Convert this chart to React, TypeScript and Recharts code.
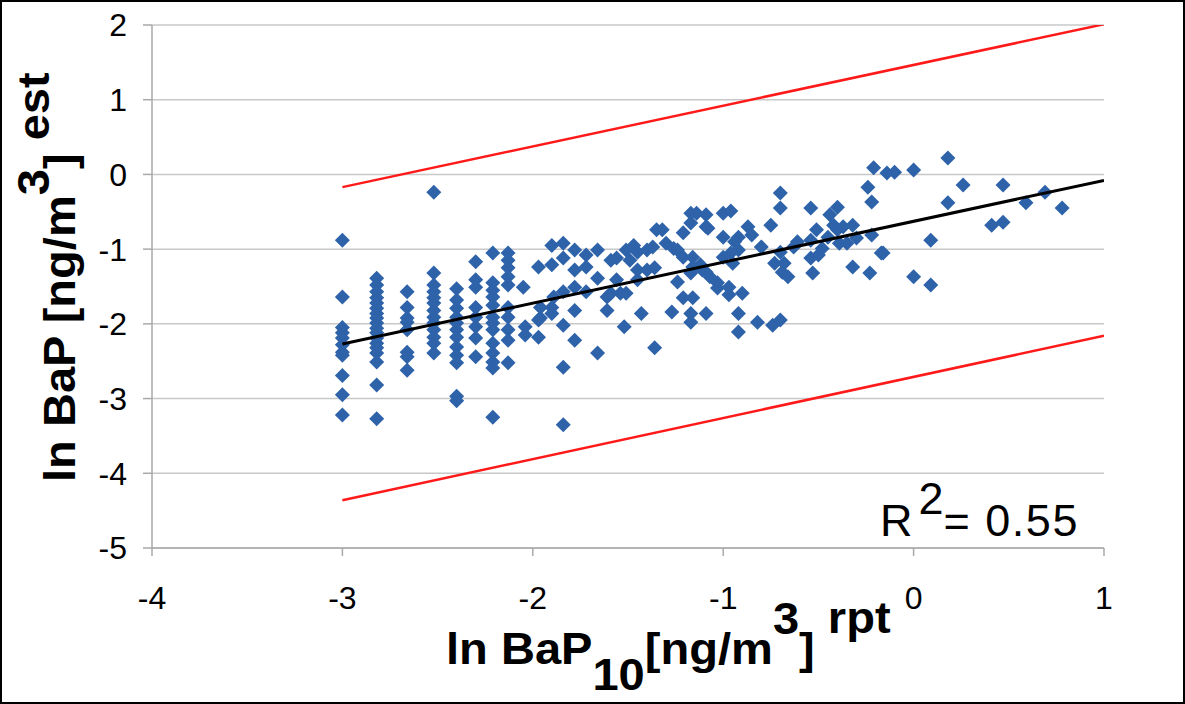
import React from 'react';
import { ScatterChart, Scatter, XAxis, YAxis, CartesianGrid } from 'recharts';

const FONT = '"Liberation Sans", Arial, sans-serif';

const xTicks = [-4, -3, -2, -1, 0, 1];
const yTicks = [-5, -4, -3, -2, -1, 0, 1, 2];

// low reported values sit on a few discrete levels, so keep them as columns
const columns = [
  { x: -3.0, ys: [-0.88, -1.64, -2.05, -2.12, -2.19, -2.28, -2.38, -2.42, -2.69, -2.95, -3.22] },
  { x: -2.82, ys: [-1.39, -1.48, -1.57, -1.65, -1.72, -1.79, -1.86, -1.92, -1.99, -2.06, -2.12, -2.19, -2.26, -2.32, -2.39, -2.51, -2.82, -3.27] },
  { x: -2.66, ys: [-1.57, -1.78, -1.92, -1.98, -2.08, -2.38, -2.44, -2.62] },
  { x: -2.52, ys: [-0.24, -1.32, -1.48, -1.57, -1.65, -1.72, -1.82, -1.91, -1.99, -2.08, -2.18, -2.26, -2.39] },
  { x: -2.4, ys: [-1.53, -1.68, -1.79, -1.91, -1.99, -2.08, -2.18, -2.31, -2.42, -2.52, -2.97, -3.03] },
  { x: -2.3, ys: [-1.17, -1.41, -1.51, -1.78, -1.91, -2.04, -2.19, -2.44] },
  { x: -2.21, ys: [-1.05, -1.45, -1.55, -1.64, -1.75, -1.91, -1.99, -2.08, -2.26, -2.39, -2.51, -2.59, -3.25] },
  { x: -2.13, ys: [-1.05, -1.15, -1.25, -1.37, -1.48, -1.78, -1.91, -2.08, -2.22, -2.52] },
];

// middle of the range [reported, estimated]
const midPoints: [number, number][] = [
  [-2.05, -1.51], [-2.04, -2.04], [-2.04, -2.15], [-1.97, -1.24], [-1.97, -1.95], [-1.97, -2.18],
  [-1.96, -1.78], [-1.96, -1.92], [-1.9, -0.95], [-1.9, -1.21], [-1.9, -1.78], [-1.9, -1.86],
  [-1.89, -1.64], [-1.84, -0.92], [-1.84, -1.12], [-1.84, -1.57], [-1.84, -2.02], [-1.84, -2.58],
  [-1.84, -3.35], [-1.78, -1.01], [-1.78, -1.28], [-1.78, -1.51], [-1.78, -1.82], [-1.78, -2.22],
  [-1.72, -1.08], [-1.72, -1.24], [-1.72, -1.57], [-1.66, -1.01], [-1.66, -1.39], [-1.66, -2.39],
  [-1.61, -1.64], [-1.61, -1.82], [-1.59, -1.15], [-1.59, -1.59], [-1.56, -1.12], [-1.56, -1.41],
  [-1.54, -1.59], [-1.52, -2.04], [-1.51, -1.01], [-1.51, -1.59], [-1.49, -1.15], [-1.47, -0.95],
  [-1.45, -1.28], [-1.45, -1.41], [-1.45, -1.04], [-1.43, -1.86], [-1.4, -1.01], [-1.4, -1.28],
  [-1.37, -0.97], [-1.36, -1.25], [-1.36, -2.32], [-1.35, -0.74], [-1.32, -0.74], [-1.3, -0.92],
  [-1.27, -1.84], [-1.26, -0.99], [-1.24, -1.01], [-1.24, -1.44], [-1.21, -0.78], [-1.21, -1.11],
  [-1.21, -1.65], [-1.17, -0.52], [-1.14, -0.52], [-1.17, -0.65], [-1.17, -1.32], [-1.17, -1.86],
  [-1.17, -1.98], [-1.16, -1.11], [-1.16, -1.24], [-1.16, -1.65], [-1.11, -1.28], [-1.09, -0.7],
  [-1.09, -1.86],
];

const highPoints: [number, number][] = [
  [-1.09, -0.54], [-1.08, -0.72], [-1.0, -0.52], [-0.96, -0.49], [-0.87, -0.7], [-0.85, -0.81],
  [-0.75, -0.68], [-1.0, -0.84], [-0.92, -0.84], [-0.94, -0.9], [-0.8, -0.97], [-0.92, -1.01],
  [-0.96, -1.05], [-1.0, -1.11], [-1.12, -1.21], [-0.95, -1.19], [-1.09, -1.31], [-1.07, -1.37],
  [-1.03, -1.45], [-1.03, -1.52], [-0.97, -1.51], [-0.97, -1.61], [-0.9, -1.59], [-0.92, -1.86],
  [-0.82, -1.98], [-0.74, -2.02], [-0.7, -1.95], [-0.92, -2.11], [-0.73, -1.19], [-0.68, -1.19],
  [-0.69, -1.31], [-0.66, -1.37], [-0.7, -1.04], [-0.61, -0.9], [-0.63, -0.97], [-0.54, -0.88],
  [-0.51, -0.74], [-0.54, -1.12], [-0.53, -1.32], [-0.5, -1.08], [-0.48, -0.99], [-0.45, -0.84],
  [-0.42, -0.68], [-0.4, -0.74], [-0.37, -0.7], [-0.32, -0.68], [-0.39, -0.92], [-0.35, -0.92],
  [-0.3, -0.85], [-0.22, -0.81], [-0.23, -1.32], [-0.32, -1.24], [-0.17, -1.05], [-0.7, -0.25],
  [-0.7, -0.45], [-0.54, -0.45], [-0.44, -0.54], [-0.4, -0.44], [-0.24, -0.17], [-0.22, -0.37],
  [-0.21, 0.09], [-0.14, 0.02], [-0.1, 0.03], [0.0, 0.06], [0.18, 0.22], [0.26, -0.14],
  [0.47, -0.14], [0.18, -0.38], [0.59, -0.38], [0.69, -0.24], [0.78, -0.45], [0.41, -0.68],
  [0.47, -0.64], [0.09, -0.88], [-0.16, -1.05], [0.0, -1.37], [0.09, -1.48],
];

const fitLine = [{ x: -3, y: -2.27 }, { x: 1, y: -0.08 }];
const upperBound = [{ x: -3, y: -0.17 }, { x: 1, y: 2.01 }];
const lowerBound = [{ x: -3, y: -4.36 }, { x: 1, y: -2.16 }];
const rSquared = '0.55';

const points = [
  ...columns.flatMap((c) => c.ys.map((y) => ({ x: c.x, y }))),
  ...midPoints.map(([x, y]) => ({ x, y })),
  ...highPoints.map(([x, y]) => ({ x, y })),
];

const Diamond = (props: any) => {
  const { cx, cy } = props;
  const r = 7.5;
  return (
    <polygon
      points={`${cx},${cy - r} ${cx + r},${cy} ${cx},${cy + r} ${cx - r},${cy}`}
      fill="#2e63aa"
    />
  );
};

const NoDot = () => <g />;

const XTitle = () => (
  <text
    transform="translate(446,664) scale(1.07,1)"
    x={0}
    y={0}
    fontFamily={FONT}
    fontSize={44}
    fontWeight="bold"
    fill="#000"
  >
    ln BaP
    <tspan dy={26}>10</tspan>
    <tspan dy={-26}>[ng/m</tspan>
    <tspan dy={-30}>3</tspan>
    <tspan dy={30}>]</tspan>
    <tspan dy={-31}> rpt</tspan>
  </text>
);

const YTitle = () => (
  <text
    transform="translate(75,482) rotate(-90) scale(1.07,1)"
    x={0}
    y={0}
    fontFamily={FONT}
    fontSize={44}
    fontWeight="bold"
    fill="#000"
  >
    ln BaP [ng/m
    <tspan dy={-26}>3</tspan>
    <tspan dy={26}>]</tspan>
    <tspan dy={-26}> est</tspan>
  </text>
);

export default function App() {
  const axisStroke = '#a9a9a9';
  return (
    <div style={{ position: 'absolute', left: 0, top: 0, width: 1185, height: 704, background: '#fff' }}>
      <ScatterChart width={1185} height={704} margin={{ top: 25, right: 81, left: 0, bottom: 0 }}>
        <CartesianGrid vertical={false} stroke="#c8c8c8" strokeWidth={1.5} />
        <XAxis
          type="number"
          dataKey="x"
          domain={[-4, 1]}
          ticks={xTicks}
          interval={0}
          allowDataOverflow
          height={156}
          tickSize={8}
          tickMargin={30}
          axisLine={{ stroke: axisStroke, strokeWidth: 1.5 }}
          tickLine={{ stroke: axisStroke, strokeWidth: 1.5 }}
          tick={{ fill: '#000', fontSize: 32, fontFamily: FONT }}
          label={{ content: () => <XTitle /> }}
        />
        <YAxis
          type="number"
          dataKey="y"
          domain={[-5, 2]}
          ticks={yTicks}
          interval={0}
          allowDataOverflow
          width={152}
          tickSize={9}
          tickMargin={16}
          axisLine={{ stroke: axisStroke, strokeWidth: 1.5 }}
          tickLine={{ stroke: axisStroke, strokeWidth: 1.5 }}
          tick={{ fill: '#000', fontSize: 32, fontFamily: FONT }}
          label={{ content: () => <YTitle /> }}
        />
        <Scatter data={points} shape={<Diamond />} isAnimationActive={false} />
        <Scatter data={upperBound} line={{ stroke: '#ff1a1a', strokeWidth: 2.5 }} shape={<NoDot />} isAnimationActive={false} />
        <Scatter data={lowerBound} line={{ stroke: '#ff1a1a', strokeWidth: 2.5 }} shape={<NoDot />} isAnimationActive={false} />
        <Scatter data={fitLine} line={{ stroke: '#000', strokeWidth: 3 }} shape={<NoDot />} isAnimationActive={false} />
      </ScatterChart>
      <svg width={1185} height={704} style={{ position: 'absolute', left: 0, top: 0, pointerEvents: 'none' }}>
        <text x={880} y={536} fontFamily={FONT} fontSize={45} fill="#000">
          R
          <tspan dx={6} dy={-22}>2</tspan>
          <tspan dy={22} letterSpacing={1.5}>= {rSquared}</tspan>
        </text>
      </svg>
      <div
        style={{
          position: 'absolute',
          inset: 0,
          border: '2px solid #000',
          boxSizing: 'border-box',
          pointerEvents: 'none',
        }}
      />
    </div>
  );
}
